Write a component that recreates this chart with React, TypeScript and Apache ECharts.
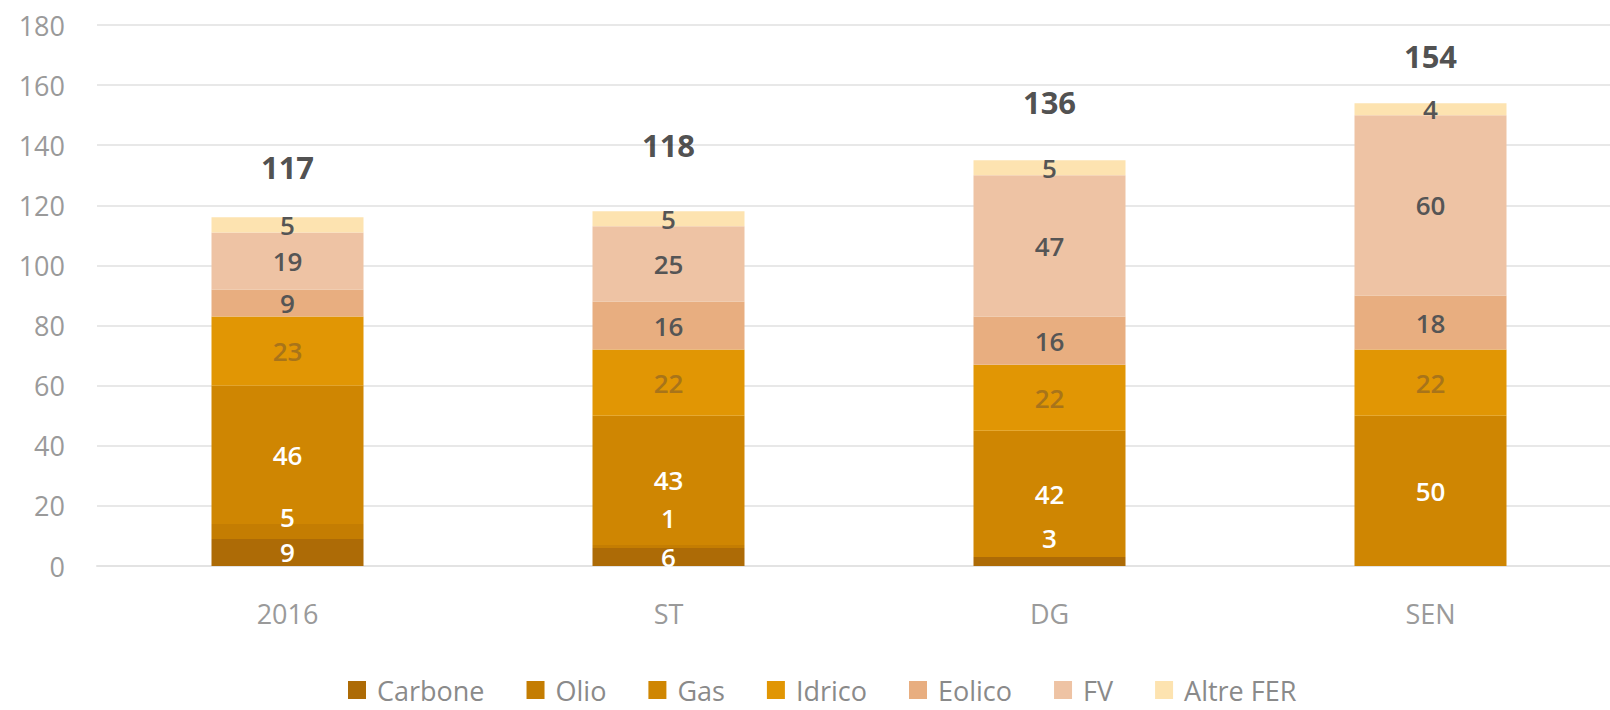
import React, { useEffect, useRef } from "react";
import * as echarts from "echarts";

const categories = ["2016", "ST", "DG", "SEN"];
const seriesNames = ["Carbone", "Olio", "Gas", "Idrico", "Eolico", "FV", "Altre FER"];
const carbone = [9, 6, 3, 0];
const olio = [5, 1, 0, 0];
const gas = [46, 43, 42, 50];
const idrico = [23, 22, 22, 22];
const eolico = [9, 16, 16, 18];
const fv = [19, 25, 47, 60];
const altreFer = [5, 5, 5, 4];
const totals = [117, 118, 136, 154];
const yTicks = [0, 20, 40, 60, 80, 100, 120, 140, 160, 180];

const seriesValues = [carbone, olio, gas, idrico, eolico, fv, altreFer];
const colors = ["#ad6b06", "#c47d02", "#cf8602", "#e19604", "#e8ae80", "#eec3a4", "#fde3b0"];
const labelColors = ["#ffffff", "#ffffff", "#ffffff", "#a8741a", "#555555", "#555555", "#555555"];
// label nudges (px) per series / category, to mimic the reference's placement
const labelNudge = [
  [0, 0, -23, 0],
  [-14, -28, 0, 0],
  [0, 0, 0, 0],
  [0, 0, 0, 0],
  [0, 0, 0, 0],
  [0, 0, 0, 0],
  [0, 0, 0, 0],
];
const totalLift = [47, 66, 55, 47];

export default function App() {
  const ref = useRef<HTMLDivElement>(null);
  useEffect(() => {
    document.body.style.margin = "0";
    const chart = echarts.init(ref.current!, null, { renderer: "svg" });
    const barSeries = seriesNames.map((name, i) => ({
      name,
      type: "bar",
      stack: "total",
      barWidth: 152,
      data: seriesValues[i].map((v, j) => ({
        value: v,
        label: { offset: [0, labelNudge[i][j]] },
      })),
      itemStyle: { color: colors[i] },
      label: {
        show: true,
        position: "inside",
        color: labelColors[i],
        fontSize: 26,
        lineHeight: 28,
        fontWeight: 600,
        fontFamily: "Open Sans",
        formatter: (p: any) => (p.value ? String(p.value) : ""),
      },
    }));
    const option: any = {
      animation: false,
      backgroundColor: "#ffffff",
      grid: { left: 97, right: -11, top: 25, bottom: 144, containLabel: false, outerBoundsMode: "none" },
      legend: {
        data: seriesNames,
        left: 343,
        top: 671,
        itemWidth: 18,
        itemHeight: 18,
        itemGap: 42,
        icon: "rect",
        textStyle: {
          color: "#8a8a8a",
          fontSize: 27,
          lineHeight: 28,
          fontFamily: "Open Sans",
          padding: [0, 0, 0, 6],
        },
      },
      xAxis: {
        type: "category",
        data: categories,
        axisTick: { show: false },
        axisLine: { show: true, lineStyle: { color: "#e3e3e3", width: 2 } },
        axisLabel: { color: "#9a9a9a", fontSize: 27, fontFamily: "Open Sans", margin: 34 },
      },
      yAxis: {
        type: "value",
        min: yTicks[0],
        max: yTicks[yTicks.length - 1],
        interval: 20,
        axisLine: { show: false },
        axisTick: { show: false },
        splitLine: { lineStyle: { color: "#e8e8e8", width: 2 } },
        axisLabel: { color: "#9a9a9a", fontSize: 27, fontFamily: "Open Sans", margin: 32 },
      },
      series: [
        ...barSeries,
        {
          name: "Totale",
          type: "scatter",
          symbolSize: 0,
          data: totals.map((v, i) => ({
            value: v,
            label: { offset: [0, -totalLift[i]] },
          })),
          label: {
            show: true,
            position: "inside",
            color: "#222222",
            fontSize: 31,
            fontWeight: "bold",
            fontFamily: "Open Sans",
          },
          silent: true,
        },
      ],
    };
    chart.setOption(option);
    return () => chart.dispose();
  }, []);
  return <div ref={ref} style={{ width: 1610, height: 710 }} />;
}
